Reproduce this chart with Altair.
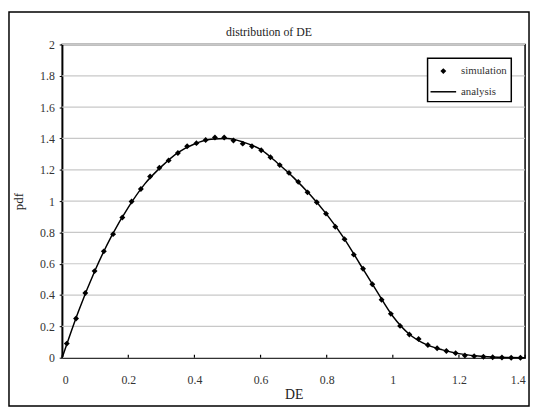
import altair as alt
import pandas as pd

# simulation (histogram bin centres) and values
sim_x = [0.014, 0.042, 0.070, 0.098, 0.126, 0.154, 0.182, 0.210, 0.238, 0.266,
         0.294, 0.322, 0.350, 0.378, 0.406, 0.434, 0.462, 0.490, 0.518, 0.546,
         0.574, 0.602, 0.630, 0.658, 0.686, 0.714, 0.742, 0.770, 0.798, 0.826,
         0.854, 0.882, 0.910, 0.938, 0.966, 0.994, 1.022, 1.050, 1.078, 1.106,
         1.134, 1.162, 1.190, 1.218, 1.246, 1.274, 1.302, 1.330, 1.358, 1.386]
sim_y = [0.09, 0.25, 0.413, 0.553, 0.679, 0.789, 0.895, 0.997, 1.077, 1.157,
         1.213, 1.26, 1.307, 1.35, 1.37, 1.39, 1.406, 1.406, 1.387, 1.367,
         1.35, 1.325, 1.28, 1.23, 1.18, 1.123, 1.056, 0.993, 0.92, 0.836,
         0.757, 0.658, 0.568, 0.469, 0.37, 0.28, 0.203, 0.148, 0.119, 0.081,
         0.06, 0.043, 0.029, 0.014, 0.01, 0.006, 0.003, 0.001, 0.0, 0.0]

# analysis curve
ana_x = [0.0, 0.05, 0.1, 0.15, 0.2, 0.25, 0.3, 0.35, 0.4, 0.45, 0.5, 0.55, 0.6,
         0.65, 0.7, 0.75, 0.8, 0.85, 0.9, 0.95, 1.0, 1.05, 1.1, 1.15, 1.2, 1.25,
         1.3, 1.35, 1.4]
ana_y = [0.0, 0.30, 0.56, 0.78, 0.96, 1.11, 1.22, 1.31, 1.365, 1.395, 1.40, 1.375,
         1.33, 1.245, 1.15, 1.04, 0.915, 0.77, 0.60, 0.43, 0.265, 0.15, 0.085,
         0.05, 0.026, 0.012, 0.004, 0.001, 0.0]

x_ticks = [0, 0.2, 0.4, 0.6, 0.8, 1, 1.2, 1.4]
y_ticks = [0, 0.2, 0.4, 0.6, 0.8, 1, 1.2, 1.4, 1.6, 1.8, 2]

legend_labels = ["simulation", "analysis"]
title_text = "distribution of DE"

FONT = "Liberation Serif"
W, H = 470, 318

sim_df = pd.DataFrame({"DE": sim_x, "pdf": sim_y})
ana_df = pd.DataFrame({"DE": ana_x, "pdf": ana_y})
xtick_df = pd.DataFrame({"t": x_ticks})
ytick_df = pd.DataFrame({"t": y_ticks})
one = pd.DataFrame({"a": [0]})

xscale = alt.Scale(domain=[0, 1.4], nice=False, zero=False)
yscale = alt.Scale(domain=[0, 2], nice=False, zero=False)

xaxis = alt.Axis(values=x_ticks, format="~g", grid=False, tickSize=0,
                 labelPadding=17, labelOverlap=False, title="DE",
                 titleFontSize=14, titlePadding=2, domainColor="black",
                 domainWidth=1.5)
yaxis = alt.Axis(values=y_ticks, format="~g", grid=False, tickSize=3,
                 tickColor="black", labelPadding=5, labelOverlap=False,
                 title="pdf", titleFontSize=13, titlePadding=14,
                 domainColor="black", domainWidth=1.5)

gridlines = alt.Chart(ytick_df).mark_rule(color="#c8c8c8", strokeWidth=1.2).encode(
    y=alt.Y("t:Q", scale=yscale, axis=yaxis),
    x=alt.value(0), x2=alt.value(W),
)

analysis = alt.Chart(ana_df).mark_line(color="black", strokeWidth=1.5,
                                       interpolate="monotone").encode(
    x=alt.X("DE:Q", scale=xscale, axis=xaxis),
    y=alt.Y("pdf:Q", scale=yscale, axis=yaxis),
)

simulation = alt.Chart(sim_df).mark_point(shape="diamond", filled=True,
                                          color="black", size=36, opacity=1).encode(
    x=alt.X("DE:Q", scale=xscale, axis=xaxis),
    y=alt.Y("pdf:Q", scale=yscale, axis=yaxis),
)

inner_ticks = alt.Chart(xtick_df).mark_rule(color="black", strokeWidth=1.2).encode(
    x=alt.X("t:Q", scale=xscale, axis=xaxis),
    y=alt.value(H),
    y2=alt.value(H - 3),
)

# legend (drawn manually)
leg_box = alt.Chart(one).mark_rect(fill="white", stroke="black",
                                   strokeWidth=1.5).encode(
    x=alt.value(371), x2=alt.value(456), y=alt.value(14), y2=alt.value(58))
leg_pt = alt.Chart(one).mark_point(shape="diamond", filled=True, color="black",
                                   size=36, opacity=1).encode(
    x=alt.value(387), y=alt.value(27))
leg_line = alt.Chart(one).mark_rule(color="black", strokeWidth=1.5).encode(
    x=alt.value(374), x2=alt.value(400), y=alt.value(48))
leg_t1 = alt.Chart(one).mark_text(text=legend_labels[0], font=FONT, fontSize=11,
                                  align="left", baseline="middle", color="#333").encode(
    x=alt.value(405), y=alt.value(27))
leg_t2 = alt.Chart(one).mark_text(text=legend_labels[1], font=FONT, fontSize=11,
                                  align="left", baseline="middle", color="#333").encode(
    x=alt.value(405), y=alt.value(48))

# chart title (text mark)
title = alt.Chart(one).mark_text(text=title_text, font=FONT, fontSize=12,
                                 align="center", baseline="middle", color="#222").encode(
    x=alt.value(210), y=alt.value(-13))

# outer chart frame
frame = alt.Chart(one).mark_rect(filled=False, stroke="black", strokeWidth=1.5).encode(
    x=alt.value(-54), x2=alt.value(474), y=alt.value(-33), y2=alt.value(367))

chart = alt.layer(
    frame, gridlines, analysis, simulation, inner_ticks,
    leg_box, leg_pt, leg_line, leg_t1, leg_t2, title,
).properties(
    width=W, height=H,
    padding={"left": 55, "top": 34, "right": 5, "bottom": 48},
    autosize=alt.AutoSizeParams(type="none"),
).configure_view(
    stroke="black", strokeWidth=1.5
).configure_axis(
    labelFont=FONT, titleFont=FONT, labelFontSize=12, labelColor="#333",
    titleColor="#222", titleFontWeight="normal"
)

chart.save("out.html", embed_options={"renderer": "svg", "actions": False})
